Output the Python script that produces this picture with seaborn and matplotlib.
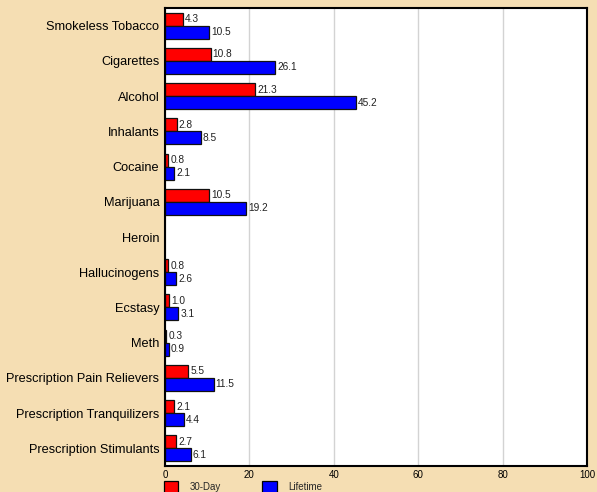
import numpy as np
import pandas as pd
import matplotlib
matplotlib.use('Agg')
import matplotlib.pyplot as plt
from matplotlib.patches import Patch
import seaborn as sns

BG = '#F5DEB3'
RED = '#FF0000'
BLUE = '#0000FF'

categories = ['Smokeless Tobacco', 'Cigarettes', 'Alcohol', 'Inhalants', 'Cocaine',
              'Marijuana', 'Heroin', 'Hallucinogens', 'Ecstasy', 'Meth',
              'Prescription Pain Relievers', 'Prescription Tranquilizers',
              'Prescription Stimulants']
day30 = [4.3, 10.8, 21.3, 2.8, 0.8, 10.5, np.nan, 0.8, 1.0, 0.3, 5.5, 2.1, 2.7]
lifetime = [10.5, 26.1, 45.2, 8.5, 2.1, 19.2, np.nan, 2.6, 3.1, 0.9, 11.5, 4.4, 6.1]
series = ['30-Day', 'Lifetime']

df = pd.DataFrame({
    'drug': categories * 2,
    'pct': day30 + lifetime,
    'period': [series[0]] * len(categories) + [series[1]] * len(categories),
})

sns.set_style('white')
plt.rcParams['font.family'] = ['Liberation Sans', 'DejaVu Sans']

fig = plt.figure(figsize=(5.97, 4.92), dpi=100)
fig.patch.set_facecolor(BG)
ax = fig.add_axes([165/597, 1 - 466/492, (587 - 165)/597, (466 - 8)/492])
ax.set_facecolor('white')

sns.barplot(data=df, y='drug', x='pct', hue='period', order=categories,
            hue_order=series, palette=[RED, BLUE], orient='h', width=0.74,
            edgecolor='#111111', linewidth=0.9, saturation=1, ax=ax, legend=False)

for cont in ax.containers:
    labels = ['' if np.isnan(v) else f'{v:.1f}' for v in cont.datavalues]
    ax.bar_label(cont, labels=labels, padding=1.5, fontsize=7.3, color='#222222')

ax.set_xlim(0, 100)
ax.set_ylim(len(categories) - 0.5, -0.5)
ax.set_xticks([0, 20, 40, 60, 80, 100])
ax.xaxis.grid(True, color='#d3d3d3', lw=1)
ax.set_axisbelow(True)
ax.set_xlabel('')
ax.set_ylabel('')
ax.tick_params(axis='y', labelsize=9.2, length=0, pad=4, colors='black')
ax.tick_params(axis='x', labelsize=7, length=0, pad=3, colors='black')
for sp in ax.spines.values():
    sp.set_visible(True)
    sp.set_color('black')
    sp.set_linewidth(1.5)

handles = [Patch(facecolor=RED, edgecolor='black', lw=0.9),
           Patch(facecolor=BLUE, edgecolor='black', lw=0.9)]
fig.legend(handles, series, loc='upper left', bbox_to_anchor=(157/597, 1 - 474/492),
           ncol=2, frameon=False, fontsize=7, handlelength=1.5, handleheight=1.6,
           handletextpad=1.2, columnspacing=4.2, borderpad=0.2)

plt.savefig('out.png', dpi=100, facecolor=BG)
plt.close()
